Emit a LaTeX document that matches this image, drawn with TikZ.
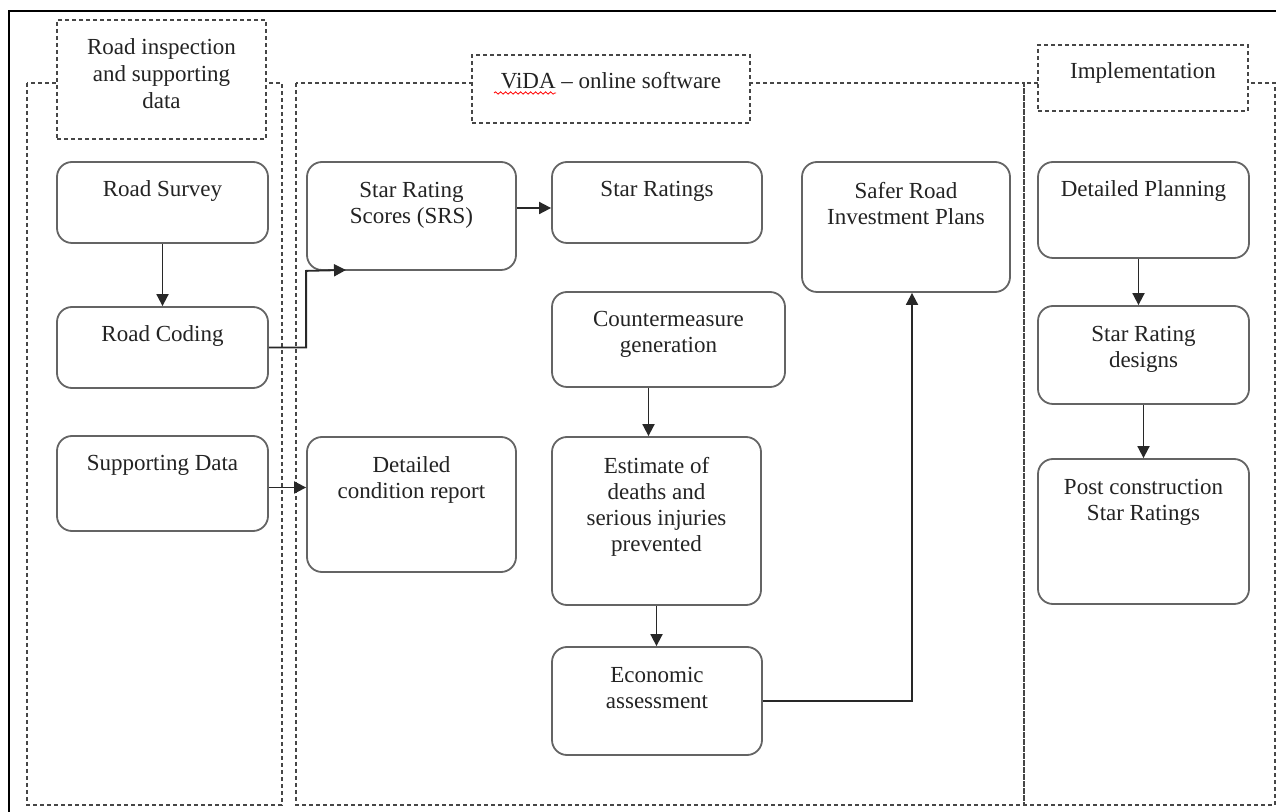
\documentclass[tikz,border=0pt]{standalone}
\usepackage{fontspec}
\setmainfont{Liberation Serif}
\usetikzlibrary{arrows.meta,decorations.pathmorphing}
\newdimen\upx \upx=0.5pt
\newcommand\bxt[4]{\parbox[c][#2\upx][t]{#1\upx}{\centering\vspace*{#3\upx}#4\par}}
\definecolor{boxc}{RGB}{100,100,100}
\definecolor{dashc}{RGB}{70,70,70}
\definecolor{linec}{RGB}{40,40,40}
\definecolor{txtc}{RGB}{35,35,35}
\tikzset{
  rb/.style={draw=boxc, line width=0.9pt, rounded corners=7.5pt, inner sep=0pt, fill=white,
    font=\fontsize{11.5}{13}\selectfont, text=txtc},
  hb/.style={draw=dashc, line width=0.9pt, dash pattern=on 2pt off 1.5pt, inner sep=0pt, fill=white,
    font=\fontsize{11.5}{13.3}\selectfont, text=txtc},
  region/.style={draw=dashc, line width=0.9pt, dash pattern=on 2pt off 1.5pt},
  arr/.style={draw=linec, line width=0.9pt, -{Triangle[length=6pt,width=6pt]}}
}
\begin{document}
\begin{tikzpicture}[x=0.5pt,y=-0.5pt]
\useasboundingbox (0,0) rectangle (1276,812);
\fill[white] (0,0) rectangle (1276,812);
% outer frame
\draw[black, line width=1pt] (9,812) -- (9,11) -- (1276,11);
% regions
\draw[region] (27,83) rectangle (282,805);
\draw[region] (296,83) rectangle (1024,805);
\draw[region] (1024,83) rectangle (1275,805);
% headers
\node[hb] (h1) at (161.5,79.5) {\bxt{209}{119}{19}{Road inspection\\ and supporting\\ data}};
\node[hb] (h2) at (611,89) {\bxt{278}{68}{17}{ViDA -- online software}};
\node[hb] (h3) at (1143,78) {\bxt{210}{66}{18}{Implementation}};
\draw[red, line width=0.4pt, decorate, decoration={snake, amplitude=0.6pt, segment length=2.5pt}] (494,93) -- (556,93);
% boxes
\node[rb] (survey)   at (162.5,202.5) {\bxt{211}{81}{19}{Road Survey}};
\node[rb] (coding)   at (162.5,347.5) {\bxt{211}{81}{19}{Road Coding}};
\node[rb] (support)  at (162.5,483.5) {\bxt{211}{95}{19}{Supporting Data}};
\node[rb] (srs)      at (411.5,216)   {\bxt{209}{108}{20}{Star Rating\\ Scores (SRS)}};
\node[rb] (ratings)  at (657,202.5)   {\bxt{210}{81}{19}{Star Ratings}};
\node[rb] (safer)    at (906,227)     {\bxt{208}{130}{20}{Safer Road\\ Investment Plans}};
\node[rb] (counter)  at (668.5,339.5) {\bxt{233}{95}{19}{Countermeasure\\ generation}};
\node[rb] (report)   at (411.5,504.5) {\bxt{209}{135}{20}{Detailed\\ condition report}};
\node[rb] (estimate) at (656.5,521)   {\bxt{209}{168}{20}{Estimate of\\ deaths and\\ serious injuries\\ prevented}};
\node[rb] (econ)     at (657,701)     {\bxt{210}{108}{20}{Economic\\ assessment}};
\node[rb] (planning) at (1143.5,210)  {\bxt{211}{96}{19}{Detailed Planning}};
\node[rb] (designs)  at (1143.5,355)  {\bxt{211}{98}{20}{Star Rating\\ designs}};
\node[rb] (post)     at (1143.5,531.5){\bxt{211}{145}{20}{Post construction\\ Star Ratings}};
% connectors
\draw[arr] (survey.south) -- (coding.north);
\coordinate (srsin) at (346,270);
\draw[arr] (coding.east) -| (srs.south west) -- (srsin);
\coordinate (s1) at ([yshift=4pt]srs.east);
\draw[arr] (s1) -- (s1 -| ratings.west);
\coordinate (s3) at ([yshift=-2pt]support.east);
\draw[arr] (s3) -- (s3 -| report.west);
\coordinate (c2) at ([xshift=-10pt]counter.south);
\draw[arr] (c2) -- (c2 |- estimate.north);
\draw[arr] (estimate.south) -- (estimate.south |- econ.north);
\coordinate (s2) at ([xshift=3pt]safer.south);
\draw[arr] (econ.east) -| (s2);
\coordinate (p1) at ([xshift=-2.5pt]planning.south);
\draw[arr] (p1) -- (p1 |- designs.north);
\draw[arr] (designs.south) -- (designs.south |- post.north);
\end{tikzpicture}
\end{document}
